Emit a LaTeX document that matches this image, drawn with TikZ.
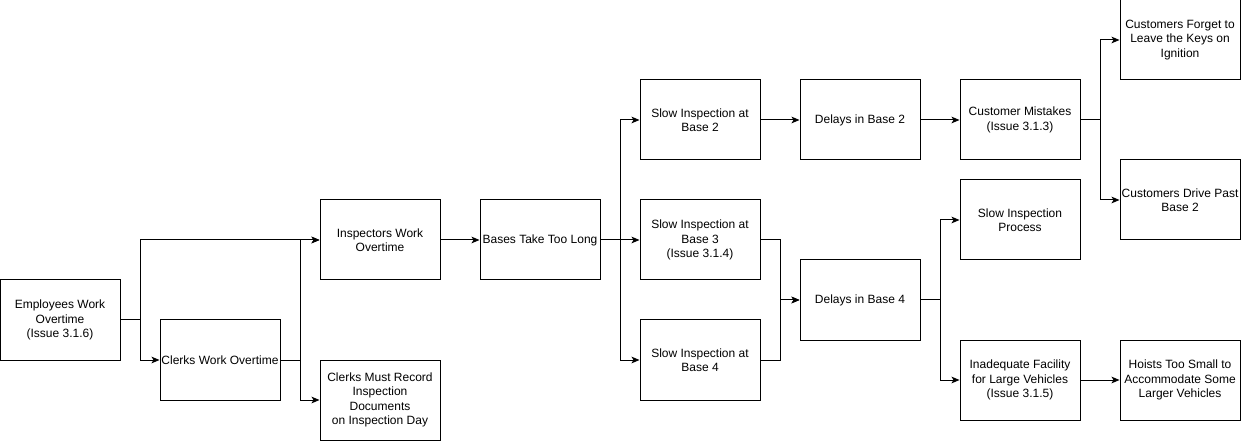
\documentclass[tikz,border=0pt]{standalone}
\usepackage{fontspec}
\setmainfont{Liberation Sans}
\usetikzlibrary{arrows.meta}
\begin{document}
\begin{tikzpicture}[x=0.75pt,y=-0.75pt,
  box/.style={draw,line width=0.75pt,minimum width=90pt,minimum height=60pt,inner sep=0pt,align=center,font=\fontsize{9}{10.8}\selectfont},
  arr/.style={draw,line width=0.75pt,-{Stealth[length=6pt,width=5pt,inset=1.5pt]}}]
\useasboundingbox (0,0) rectangle (1241,441);
\node[box] (emp) at (60,320) {Employees Work\\Overtime\\(Issue 3.1.6)};
\node[box] (cwo) at (220,360) {Clerks Work Overtime};
\node[box] (insp) at (380,240) {Inspectors Work\\Overtime};
\node[box] (cmr) at (380,400) {Clerks Must Record\\Inspection\\Documents\\on Inspection Day};
\node[box] (btl) at (540,240) {Bases Take Too Long};
\node[box] (s2) at (700,120) {Slow Inspection at\\Base 2};
\node[box] (s3) at (700,240) {Slow Inspection at\\Base 3\\(Issue 3.1.4)};
\node[box] (s4) at (700,360) {Slow Inspection at\\Base 4};
\node[box] (d2) at (860,120) {Delays in Base 2};
\node[box] (d4) at (860,300) {Delays in Base 4};
\node[box] (cm) at (1020,120) {Customer Mistakes\\(Issue 3.1.3)};
\node[box] (sip) at (1020,220) {Slow Inspection\\Process};
\node[box] (inf) at (1020,380) {Inadequate Facility\\for Large Vehicles\\(Issue 3.1.5)};
\node[box] (cf) at (1180,40) {Customers Forget to\\Leave the Keys on\\Ignition};
\node[box] (cd) at (1180,200) {Customers Drive Past\\Base 2};
\node[box] (hts) at (1180,380) {Hoists Too Small to\\Accommodate Some\\Larger Vehicles};
\draw[arr] (emp.east) -- ++(20,0) |- (insp.west);
\draw[arr] (emp.east) -- ++(20,0) |- (cwo.west);
\draw[arr] (cwo.east) -- ++(20,0) |- (insp.west);
\draw[arr] (cwo.east) -- ++(20,0) |- (cmr.west);
\draw[arr] (insp.east) -- (btl.west);
\draw[arr] (btl.east) -- ++(20,0) |- (s2.west);
\draw[arr] (btl.east) -- (s3.west);
\draw[arr] (btl.east) -- ++(20,0) |- (s4.west);
\draw[arr] (s2.east) -- (d2.west);
\draw[arr] (s3.east) -- ++(20,0) |- (d4.west);
\draw[arr] (s4.east) -- ++(20,0) |- (d4.west);
\draw[arr] (d2.east) -- (cm.west);
\draw[arr] (cm.east) -- ++(20,0) |- (cf.west);
\draw[arr] (cm.east) -- ++(20,0) |- (cd.west);
\draw[arr] (d4.east) -- ++(20,0) |- (sip.west);
\draw[arr] (d4.east) -- ++(20,0) |- (inf.west);
\draw[arr] (inf.east) -- (hts.west);
\end{tikzpicture}
\end{document}
